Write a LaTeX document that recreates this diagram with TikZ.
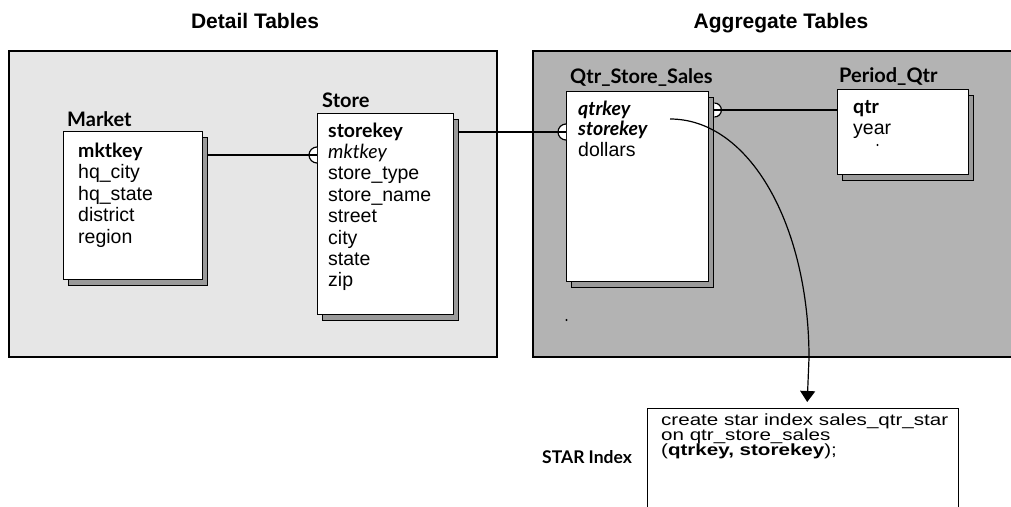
\documentclass[tikz,border=0pt]{standalone}
\usepackage{fontspec}
\setmainfont{Liberation Sans}
\newfontfamily\humfont{Lato}
\newfontfamily\widefont{Liberation Sans}[FakeStretch=1.27]
\usetikzlibrary{arrows.meta,calc,shadows}

\definecolor{detailbg}{HTML}{E6E6E6}
\definecolor{aggbg}{HTML}{B3B3B3}
\definecolor{shadegray}{HTML}{9A9A9A}

% key columns are set in a humanist face
\newcommand\keyb[1]{{\humfont\bfseries #1}}
\newcommand\keybi[1]{{\humfont\bfseries\itshape #1}}
\newcommand\keyi[1]{{\humfont\itshape #1}}

% one text node per row, stacked downwards from a named origin
\newcommand\fieldrows[5]{%
  \foreach \rowtext [count=\rowno] in {#5}{%
    \node[#2] (#1-\rowno) at ($(#3)+(0,{(\rowno-1)*#4})$) {\rowtext};
  }%
}

\tikzset{
  panel/.style={line width=2.4pt, draw=black},
  tablebox/.style={draw, fill=white, line width=1.4pt, anchor=north west,
    inner sep=0pt,
    copy shadow={shadow xshift=5pt, shadow yshift=-6pt, fill=shadegray,
      draw=black, line width=1.2pt}},
  heading/.style={font=\fontsize{21}{24}\selectfont\bfseries, anchor=base, inner sep=0pt},
  tabtitle/.style={font=\humfont\bfseries\fontsize{20}{22}\selectfont, anchor=base west, inner sep=0pt},
  field/.style={font=\fontsize{19.5}{21}\selectfont, anchor=base west, inner sep=0pt},
  code/.style={font=\widefont\fontsize{16.2}{16}\selectfont, anchor=base west, inner sep=0pt},
  conn/.style={line width=1.2pt},
  fork/.style={line width=1.2pt, fill=white},
}

\begin{document}
\begin{tikzpicture}[x=1pt,y=-1pt]
\clip (0,0) rectangle (1011,506);
\fill[white] (0,0) rectangle (1011,506);

% the two groups of tables
\draw[panel, fill=detailbg] (9,51) rectangle (497,357);
\draw[panel, fill=aggbg] (533,51) rectangle (1020,357);
\node[heading] (hdetail) at (255,28) {Detail Tables};
\node[heading] (hagg) at (781,28) {Aggregate Tables};

% tables
\node[tablebox, minimum width=139pt, minimum height=148pt] (market) at (63,131) {};
\node[tablebox, minimum width=136pt, minimum height=201pt] (store) at (317,113) {};
\node[tablebox, minimum width=142pt, minimum height=190pt] (qss) at (566,91) {};
\node[tablebox, minimum width=131pt, minimum height=85pt] (period) at (837,89) {};

\node[tabtitle] (tmarket) at ($(market.north west)+(4,-5)$) {Market};
\node[tabtitle] (tstore) at ($(store.north west)+(5,-6)$) {Store};
\node[tabtitle] (tqss) at ($(qss.north west)+(4,-8)$) {Qtr\_Store\_Sales};
\node[tabtitle] (tperiod) at ($(period.north west)+(2,-7)$) {Period\_Qtr};

\coordinate (mkF) at ($(market.north west)+(15,26)$);
\coordinate (stF) at ($(store.north west)+(11,24)$);
\coordinate (qsF) at ($(qss.north west)+(12,24)$);
\coordinate (peF) at ($(period.north west)+(16,24)$);

\fieldrows{mk}{field}{mkF}{21.5}{\keyb{mktkey}, hq\_city, hq\_state, district, region}
\fieldrows{st}{field}{stF}{21.4}{\keyb{storekey}, \keyi{mktkey}, store\_type, store\_name, street, city, state, zip}
\fieldrows{qs}{field}{qsF}{20.5}{\keybi{qtrkey}, \keybi{storekey}, dollars}
\fieldrows{pe}{field}{peF}{21.5}{\keyb{qtr}, year}

% two stray specks
\fill ($(period.north west)+(40.5,56)$) circle[radius=1.1];
\fill (566.5,320) circle[radius=1.1];

% relationships
\coordinate (mkA) at ($(market.north east)+(4,24)$);
\draw[fork] ($(mkA -| store.west)+(0,8)$) arc[start angle=90, end angle=270, radius=8];
\draw[conn] (mkA) -- (mkA -| store.west);

\coordinate (stA) at ($(store.north east)+(5,19)$);
\draw[fork] ($(stA -| qss.west)+(0,8)$) arc[start angle=90, end angle=270, radius=8];
\draw[conn] (stA) -- (stA -| qss.west);

\coordinate (qsA) at ($(qss.north east)+(5,19)$);
\draw[fork] ($(qsA)+(0,-7)$) arc[start angle=-90, end angle=90, radius=7];
\draw[conn] (qsA) -- (qsA -| period.west);

% STAR index
\node[heading, font=\humfont\bfseries\fontsize{17.5}{20}\selectfont, anchor=base west] (starlbl) at (542,463) {STAR Index};
\node[draw, line width=1.4pt, anchor=north west, minimum width=311pt,
      minimum height=140pt, inner sep=0pt] (idx) at (647,408) {};
\coordinate (ixF) at ($(idx.north west)+(14,17)$);
\fieldrows{ix}{code}{ixF}{15.3}{create star index sales\_qtr\_star, on qtr\_store\_sales, {(\textbf{qtrkey, storekey});}}

\coordinate (sk) at ($(qss.north west)+(104,28)$);
\draw[conn, -{Triangle[length=11pt,width=15pt]}]
  (sk) .. controls +(80,0) and (809,226) .. (809,358) -- ($(idx.north)+(4,-6)$);
\end{tikzpicture}
\end{document}
